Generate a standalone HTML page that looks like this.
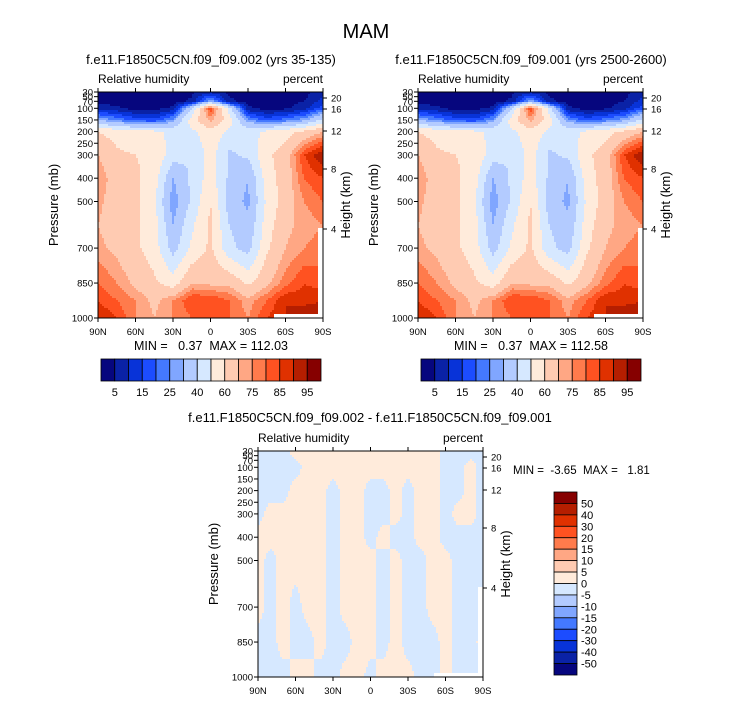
<!DOCTYPE html>
<html><head><meta charset="utf-8">
<style>
body{margin:0;background:#fff;}
svg text{font-family:"Liberation Sans",sans-serif;fill:#000;}
</style></head>
<body>
<svg id="s" width="733" height="701" xmlns="http://www.w3.org/2000/svg">
<text x="366" y="38" font-size="20" text-anchor="middle">MAM</text>
</svg>
<script>
// Relative humidity grid (percent): columns = latitude, rows = pressure levels
const lats = ["90N","75N","60N","45N","30N","15N","0","15S","30S","45S","60S","75S","90S"];
const presLevels = [30,70,100,150,200,300,400,500,600,700,850,925,1000];
const rh = [
[2,2,2,2,3,4,8,4,3,2,2,3,8],
[3,3,2,2,3,6,30,6,3,2,3,5,12],
[8,6,3,3,6,40,85,45,6,3,4,8,18],
[30,24,18,16,26,55,72,55,26,18,22,28,42],
[60,56,52,52,48,48,56,48,46,52,56,62,70],
[70,62,60,58,45,40,55,38,42,58,65,85,95],
[75,65,62,55,30,42,55,38,30,55,65,80,85],
[72,65,62,52,25,42,60,35,28,52,65,75,80],
[70,65,62,55,30,48,62,40,32,55,68,72,75],
[72,68,62,55,36,52,62,43,36,58,70,75,78],
[80,75,68,62,55,70,68,68,58,68,78,85,82],
[85,80,75,68,75,85,85,80,72,80,90,88,90],
[90,85,75,70,75,80,85,80,75,85,90,95,95]];
// Difference grid (sign of change): columns every 10 deg
const diffLats = ["90N","80N","70N","60N","50N","40N","30N","20N","10N","0","10S","20S","30S","40S","50S","60S","70S","80S","90S"];
const diffPres = [30,100,200,300,400,500,700,850,1000];
const diff = [
[-1,-1,-1,1,1,1,1,1,1,1,1,1,1,1,1,-1,-1,-1,-1],
[-1,-1,-1,-1,1,1,1,1,1,1,1,1,1,1,1,-1,-1,1,-1],
[-1,-1,-1,1,1,1,-1,1,1,-1,-1,1,-1,1,1,-1,-1,1,-1],
[-1,1,1,1,1,1,-1,1,1,-1,-1,1,-1,1,1,-1,1,1,-1],
[1,1,1,1,1,1,-1,1,1,-1,1,-1,-1,1,1,-1,-1,-1,-1],
[1,-1,1,1,1,1,-1,1,1,1,-1,1,-1,-1,1,1,-1,-1,-1],
[1,-1,1,-1,1,1,-1,1,1,1,-1,1,-1,-1,1,1,-1,-1,-1],
[-1,-1,1,-1,-1,1,-1,-1,1,1,-1,1,-1,-1,-1,1,-1,-1,1],
[-1,-1,-1,1,1,-1,-1,1,1,-1,1,1,1,-1,-1,1,-1,-1,-1]];
const rhLevels = [5,10,15,20,25,30,40,50,60,70,75,80,85,90,95];
const rhLabels = ["5","15","25","40","60","75","85","95"];
const diffLevels = [-50,-40,-30,-20,-15,-10,-5,0,5,10,15,20,30,40,50];
const diffLabels = ["-50","-40","-30","-20","-15","-10","-5","0","5","10","15","20","30","40","50"];
const pTicks = [30,50,70,100,150,200,250,300,400,500,700,850,1000];
const hTicks = ["20","16","12","8","4"];
const hOff = [6,17,39,77,137];
const xTicks = ["90N","60N","30N","0","30S","60S","90S"];
const colors = ["#06067e","#0a22a6","#0833d8","#1c4cff","#4479ff","#80a6ff","#b3cbff","#d6e8ff","#ffebdb","#ffcbb2","#ffa784","#ff7b4c","#ff5221","#e03100","#b51e00","#860000"];

const NS="http://www.w3.org/2000/svg", svg=document.getElementById('s');
const S='\u00a0';
function el(t,a,p){const e=document.createElementNS(NS,t);for(const k in a)e.setAttribute(k,a[k]);(p||svg).appendChild(e);return e;}
function txt(s,a,p){const e=el('text',a,p);e.textContent=s;return e;}
function lvl(v,levels){let i=0;while(i<levels.length&&v>=levels[i])i++;return i;}
function interp(grid,pres,u,p){
  const nc=grid[0].length;u=Math.max(0,Math.min(nc-1,u));
  const i0=Math.min(nc-2,Math.floor(u)),fu=u-i0;
  let r=0;while(r<pres.length-2&&p>pres[r+1])r++;
  const fp=Math.max(0,Math.min(1,(p-pres[r])/(pres[r+1]-pres[r])));
  const a=grid[r][i0]*(1-fu)+grid[r][i0+1]*fu, b=grid[r+1][i0]*(1-fu)+grid[r+1][i0+1]*fu;
  return a*(1-fp)+b*fp;
}
function panel(name,x0,y0,w,h,grid,pres,colorOf){
  const g=el('g',{});
  
  
  const cs=2;
  for(let y=0;y<h;y+=cs){
    const p=30+(y+cs/2)/h*970;
    let start=0,cur=null;
    for(let x=0;;x+=cs){
      const end=x>=w;
      let c=null;
      if(!end){const u=(x+cs/2)/w*(grid[0].length-1);c=colorOf(interp(grid,pres,u,p));
        if((x>w*0.78&&y>h-5)||(x>w*0.975&&y>h*0.6))c='#fff';}
      if(end||c!==cur){if(cur!==null){const xe=Math.min(x,w);const r=el('rect',{x:x0+start,y:y0+y,width:xe-start,height:Math.min(cs,h-y),fill:cur},g);
          }
        cur=c;start=x;}
      if(end)break;
    }
  }
  const f=el('rect',{x:x0,y:y0,width:w,height:h,fill:'none',stroke:'#000','stroke-width':1});
  
  pTicks.forEach(pv=>{const y=y0+(pv-30)/970*h;
    el('line',{x1:x0,x2:x0-4,y1:y,y2:y,stroke:'#000'});
    const t=txt(String(pv),{x:x0-5,y:y+3.5,'font-size':9.5,'text-anchor':'end'});
    });
  hTicks.forEach((s,i)=>{const y=y0+hOff[i];
    el('line',{x1:x0+w,x2:x0+w+4,y1:y,y2:y,stroke:'#000'});
    const t=txt(s,{x:x0+w+8,y:y+3.5,'font-size':9.5});
    });
  xTicks.forEach((s,i)=>{const x=x0+i*w/6;
    el('line',{x1:x,x2:x,y1:y0+h,y2:y0+h+4,stroke:'#000'});
    el('line',{x1:x,x2:x,y1:y0,y2:y0-4,stroke:'#000'});
    const t=txt(s,{x:x,y:y0+h+17,'font-size':9.5,'text-anchor':'middle'});
    });
  const a=txt('Relative humidity',{x:x0,y:y0-9,'font-size':12});
  
  const b=txt('percent',{x:x0+w,y:y0-9,'font-size':12,'text-anchor':'end'});
  
  const yt=txt('Pressure (mb)',{x:0,y:0,'font-size':13,'text-anchor':'middle',transform:`translate(${x0-40},${y0+h/2}) rotate(-90)`});
  
  const ht=txt('Height (km)',{x:0,y:0,'font-size':13,'text-anchor':'middle',transform:`translate(${x0+w+27},${y0+h/2}) rotate(-90)`});
  
}
function hbar(name,x0,y0,w,h){
  const n=colors.length;
  colors.forEach((c,i)=>{const r=el('rect',{x:x0+i*w/n,y:y0,width:w/n,height:h,fill:c,stroke:'#000','stroke-width':0.8});
    });
  rhLabels.forEach((s,i)=>{const t=txt(s,{x:x0+(2*i+1)*w/n,y:y0+h+15,'font-size':11,'text-anchor':'middle'});
    });
}
const rhColor=v=>colors[lvl(v,rhLevels)];
const diffColor=v=>v>=0?colors[8]:colors[7];

let t=txt('f.e11.F1850C5CN.f09_f09.002 (yrs 35-135)',{x:211,y:64,'font-size':13,'text-anchor':'middle'});

panel('left-panel',98,92,225,226,rh,presLevels,rhColor);
t=txt('MIN ='+S+S+S+'0.37'+S+S+'MAX = 112.03',{x:211,y:350,'font-size':12.5,'text-anchor':'middle'});

hbar('left-colorbar',101,359,220,22);

t=txt('f.e11.F1850C5CN.f09_f09.001 (yrs 2500-2600)',{x:531,y:64,'font-size':13,'text-anchor':'middle'});

panel('right-panel',418,92,225,226,rh,presLevels,rhColor);
t=txt('MIN ='+S+S+S+'0.37'+S+S+'MAX = 112.58',{x:531,y:350,'font-size':12.5,'text-anchor':'middle'});

hbar('right-colorbar',421,359,220,22);

t=txt('f.e11.F1850C5CN.f09_f09.002 - f.e11.F1850C5CN.f09_f09.001',{x:370,y:422,'font-size':13,'text-anchor':'middle'});

panel('diff-panel',258,451,225,226,diff,diffPres,diffColor);
t=txt('MIN ='+S+S+'-3.65'+S+S+'MAX ='+S+S+S+'1.81',{x:513,y:474,'font-size':11.5});

{const x0=554,y0=492,w=23,h=183,n=colors.length;
 colors.slice().reverse().forEach((c,i)=>{const r=el('rect',{x:x0,y:y0+i*h/n,width:w,height:h/n,fill:c,stroke:'#000','stroke-width':0.8});
   });
 diffLabels.slice().reverse().forEach((s,i)=>{const tt=txt(s,{x:x0+w+4,y:y0+(i+1)*h/n+4,'font-size':11});
   });
}
</script>
</body></html>
